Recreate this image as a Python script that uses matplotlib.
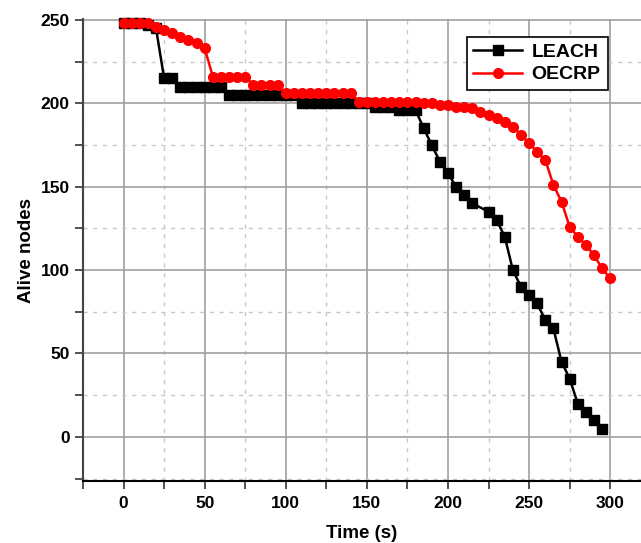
import matplotlib
matplotlib.use("Agg")
import matplotlib.pyplot as plt
from matplotlib.ticker import MultipleLocator

plt.rcParams['font.family'] = ['Liberation Sans', 'DejaVu Sans']

# Datos
t_leach = [0, 5, 10, 15, 20, 25, 30, 35, 40, 45, 50, 55, 60, 65, 70, 75, 80, 85,
           90, 95, 100, 105, 110, 115, 120, 125, 130, 135, 140, 145, 150, 155,
           160, 165, 170, 175, 180, 185, 190, 195, 200, 205, 210, 215, 225, 230,
           235, 240, 245, 250, 255, 260, 265, 270, 275, 280, 285, 290, 295]
leach = [248, 248, 248, 247, 245, 215, 215, 210, 210, 210, 210, 210, 210, 205,
         205, 205, 205, 205, 205, 205, 205, 205, 200, 200, 200, 200, 200, 200,
         200, 200, 200, 198, 198, 198, 196, 196, 196, 185, 175, 165, 158, 150,
         145, 140, 135, 130, 120, 100, 90, 85, 80, 70, 65, 45, 35, 20, 15, 10, 5]

t_oecrp = list(range(0, 305, 5))
oecrp = [248, 248, 248, 248, 246, 244, 242, 240, 238, 236, 233, 216, 216, 216,
         216, 216, 211, 211, 211, 211, 206, 206, 206, 206, 206, 206, 206, 206,
         206, 201, 201, 201, 201, 201, 201, 201, 201, 200, 200, 199, 199, 198,
         198, 197, 195, 193, 191, 189, 186, 181, 176, 171, 166, 151, 141, 126,
         120, 115, 109, 101, 95]

fig = plt.figure(figsize=(6.41, 5.43), dpi=100)
ax = fig.add_axes([0.1295, 0.114, 0.8705, 0.851])

ax.plot(t_leach, leach, '-s', color='black', lw=1.8, ms=7.5, label='LEACH',
        clip_on=False, zorder=3)
ax.plot(t_oecrp, oecrp, '-o', color='red', lw=1.8, ms=7, label='OECRP',
        clip_on=False, zorder=4)

ax.set_xlim(-25, 319)
ax.set_ylim(-26.5, 250.5)
ax.xaxis.set_major_locator(MultipleLocator(50))
ax.xaxis.set_minor_locator(MultipleLocator(25))
ax.yaxis.set_major_locator(MultipleLocator(50))
ax.yaxis.set_minor_locator(MultipleLocator(25))
ax.set_yticks([0, 50, 100, 150, 200, 250])

ax.grid(which='major', color='#a0a0a0', lw=1.2, ls='-')
ax.grid(which='minor', color='#c8c8c8', lw=1.0, ls=(0, (3, 4)))
ax.set_axisbelow(True)

for s in ['top', 'right']:
    ax.spines[s].set_visible(False)
ax.spines['left'].set_color('#444444')
ax.spines['left'].set_linewidth(1.5)
ax.spines['bottom'].set_color('black')
ax.spines['bottom'].set_linewidth(1.5)

ax.tick_params(which='both', direction='out', length=6, width=1.2,
               color='#333333')
for lab in ax.get_xticklabels() + ax.get_yticklabels():
    lab.set_fontweight('bold')
    lab.set_fontsize(12.5)
ax.tick_params(axis='x', pad=5)

ax.set_xlabel('Time (s)', fontsize=13.5, fontweight='bold', labelpad=10)
ax.set_ylabel('Alive nodes', fontsize=13.5, fontweight='bold', labelpad=4)

leg = ax.legend(loc='upper right', bbox_to_anchor=(0.94, 0.962),
                borderaxespad=0,
                prop={'weight': 'bold', 'size': 14}, fancybox=False,
                framealpha=1, edgecolor='black', borderpad=0.35,
                handlelength=2.5, handletextpad=0.5, labelspacing=0.25)
leg.get_frame().set_linewidth(1.2)

plt.savefig('out.png', dpi=100)
